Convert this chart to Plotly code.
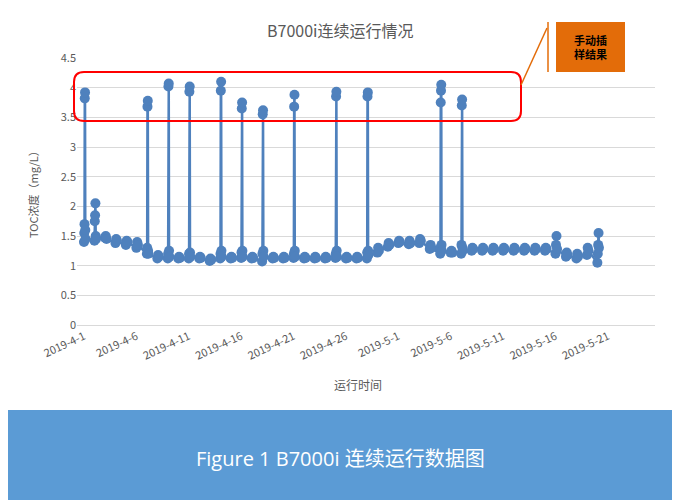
import pandas as pd
import plotly.graph_objects as go

# daily TOC readings (mg/L), several samples per day, 2019-4-1 .. 2019-5-21
start = "2019-04-01"
daily = [
    [1.4, 1.55, 1.7, 3.82, 3.92, 1.6, 1.45],  # 4-1
    [1.42, 1.75, 1.85, 2.05, 1.5, 1.45],
    [1.47, 1.5, 1.45],
    [1.38, 1.45, 1.42],
    [1.35, 1.42, 1.4],
    [1.3, 1.4, 1.35],
    [1.2, 1.3, 3.68, 3.78, 1.25, 1.2],  # 4-7
    [1.12, 1.18, 1.15],
    [1.12, 1.2, 4.02, 4.07, 1.25, 1.15],  # 4-9
    [1.12, 1.15, 1.13],
    [1.12, 1.2, 3.93, 4.02, 1.22, 1.15],  # 4-11
    [1.12, 1.15, 1.13],
    [1.08, 1.12, 1.1],
    [1.12, 1.2, 3.95, 4.1, 1.25, 1.15],  # 4-14
    [1.12, 1.15, 1.13],
    [1.13, 1.22, 3.65, 3.75, 1.25, 1.15],  # 4-16
    [1.12, 1.15, 1.13],
    [1.07, 1.2, 3.55, 3.62, 1.25, 1.15],  # 4-18
    [1.12, 1.15, 1.13],
    [1.12, 1.15, 1.13],
    [1.13, 1.2, 3.68, 3.88, 1.25, 1.15],  # 4-21
    [1.12, 1.15, 1.13],
    [1.12, 1.15, 1.13],
    [1.12, 1.15, 1.13],
    [1.13, 1.2, 3.85, 3.93, 1.25, 1.15],  # 4-25
    [1.12, 1.15, 1.13],
    [1.12, 1.15, 1.13],
    [1.12, 1.22, 3.85, 3.92, 1.25, 1.18],  # 4-28
    [1.22, 1.3, 1.25],
    [1.32, 1.38, 1.35],
    [1.38, 1.42, 1.4],
    [1.36, 1.42, 1.38],
    [1.38, 1.45, 1.42],
    [1.28, 1.35, 1.3],
    [1.2, 1.3, 3.75, 3.95, 4.05, 1.35, 1.25],  # 5-5
    [1.22, 1.25, 1.22],
    [1.2, 1.35, 3.7, 3.8, 1.3, 1.25],  # 5-7
    [1.25, 1.3, 1.28],
    [1.25, 1.3, 1.28],
    [1.25, 1.3, 1.28],
    [1.25, 1.3, 1.28],
    [1.25, 1.3, 1.28],
    [1.25, 1.3, 1.28],
    [1.25, 1.3, 1.28],
    [1.25, 1.3, 1.28],
    [1.2, 1.35, 1.5, 1.28],
    [1.15, 1.22, 1.18],
    [1.12, 1.2, 1.15],
    [1.18, 1.3, 1.25],
    [1.05, 1.2, 1.35, 1.55, 1.3],  # 5-21
]

xs, ys = [], []
for d, vals in enumerate(daily):
    day = pd.Timestamp(start) + pd.Timedelta(days=d)
    n = len(vals)
    for k, v in enumerate(vals):
        xs.append(day + pd.Timedelta(hours=24 * 0.15 * k / max(n - 1, 1)))
        ys.append(v)

blue = "#4f81bd"
fig = go.Figure(go.Scatter(x=xs, y=ys, mode="lines+markers",
                           line=dict(color=blue, width=2.5),
                           marker=dict(color=blue, size=10)))

# page pixel -> paper coords (page has an 8px body margin)
def px(x):
    return (x - 77) / 578

def py(y):
    return (325 - y) / 267

shapes = [
    dict(type="rect", xref="paper", yref="paper", layer="below",
         x0=px(0), x1=px(672), y0=py(410), y1=py(0),
         fillcolor="white", line=dict(width=0)),
]
x0, x1, y0, y1, r = 74, 521, 72, 121, 10
path = (f"M {px(x0+r)},{py(y0)} L {px(x1-r)},{py(y0)} Q {px(x1)},{py(y0)} {px(x1)},{py(y0+r)} "
        f"L {px(x1)},{py(y1-r)} Q {px(x1)},{py(y1)} {px(x1-r)},{py(y1)} "
        f"L {px(x0+r)},{py(y1)} Q {px(x0)},{py(y1)} {px(x0)},{py(y1-r)} "
        f"L {px(x0)},{py(y0+r)} Q {px(x0)},{py(y0)} {px(x0+r)},{py(y0)} Z")
shapes.append(dict(type="path", xref="paper", yref="paper", path=path,
                   line=dict(color="#ff0000", width=2)))
shapes.append(dict(type="line", xref="paper", yref="paper",
                   x0=px(521), y0=py(85), x1=px(547), y1=py(28),
                   line=dict(color="#e36c09", width=1.5)))
shapes.append(dict(type="line", xref="paper", yref="paper",
                   x0=px(548), y0=py(22), x1=px(548), y1=py(72),
                   line=dict(color="#e36c09", width=1.5)))
shapes.append(dict(type="rect", xref="paper", yref="paper",
                   x0=px(556), x1=px(625), y0=py(72), y1=py(22),
                   fillcolor="#e36c09", line=dict(width=0)))

def note(text, x, y, size, color="#595959", angle=0, family=None):
    f = dict(size=size, color=color)
    if family:
        f["family"] = family
    return dict(text=text, xref="paper", yref="paper", x=px(x), y=py(y),
                xanchor="center", yanchor="middle", textangle=angle,
                showarrow=False, font=f)

fig.update_layout(
    width=672, height=492,
    margin=dict(l=69, r=25, t=50, b=175),
    paper_bgcolor="#5b9bd5", plot_bgcolor="white",
    font=dict(family="Noto Sans CJK SC", color="#595959", size=10),
    showlegend=False,
    shapes=shapes,
    annotations=[
        note("B7000i连续运行情况", 340, 30, 16),
        note("<b>手动插<br>样结果</b>", 590, 47, 11, color="black"),
        note("TOC浓度（mg/L）", 33, 192, 11, angle=-90),
        note("运行时间", 358, 384, 12),
        note("Figure 1 B7000i 连续运行数据图", 340, 458, 20, color="white",
             family="Open Sans, Noto Sans CJK SC"),
    ],
)
fig.update_xaxes(range=[pd.Timestamp(start) - pd.Timedelta(hours=16),
                        pd.Timestamp(start) + pd.Timedelta(days=54.5)],
                 tickmode="linear", tick0=start, dtick=5 * 86400000,
                 tickformat="%Y-%-m-%-d", tickangle=-25, showgrid=False,
                 showline=True, linecolor="#d9d9d9", ticks="", zeroline=False,
                 tickfont=dict(size=11))
fig.update_yaxes(range=[0, 4.5], dtick=0.5, tickformat=".1~f",
                 gridcolor="#d9d9d9", showline=False, zeroline=False, ticks="",
                 tickfont=dict(size=11))
fig.write_html("out.html")
